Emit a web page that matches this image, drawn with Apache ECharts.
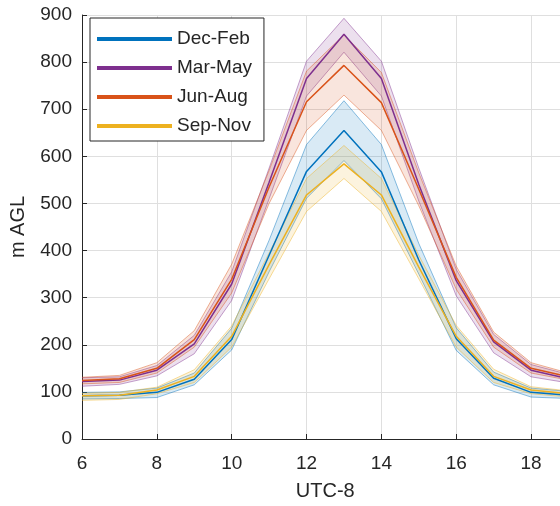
<!DOCTYPE html>
<html>
<head>
<meta charset="utf-8">
<script src="https://cdn.jsdelivr.net/npm/echarts@6/dist/echarts.min.js"></script>
<style>
html, body { margin: 0; padding: 0; background: #fff; width: 560px; height: 506px; overflow: hidden; }
#moldura { width: 560px; height: 506px; overflow: hidden; position: relative; }
#grafico { position: absolute; left: 0; top: 0; width: 569px; height: 506px; }
</style>
</head>
<body>
<div id="moldura"><div id="grafico"></div></div>
<script>
// horas (UTC-8)
var horas = [6, 7, 8, 9, 10, 11, 12, 13, 14, 15, 16, 17, 18, 19];

// Dec-Feb
var decFeb = [92, 93, 99, 127, 211, 390, 568, 655, 567, 380, 213, 129, 99, 93];
var decFebSup = [99, 100, 108, 140, 235, 422, 625, 718, 625, 415, 236, 142, 108, 101];
var decFebInf = [85, 86, 88, 115, 189, 355, 511, 591, 510, 350, 188, 115, 89, 86];

// Mar-May
var marMay = [122, 125, 146, 202, 329, 545, 765, 859, 765, 540, 336, 206, 146, 128];
var marMaySup = [130, 132, 156, 220, 355, 575, 802, 893, 802, 575, 360, 222, 158, 137];
var marMayInf = [112, 116, 134, 181, 294, 510, 728, 821, 728, 505, 304, 183, 132, 119];

// Jun-Aug
var junAug = [124, 128, 150, 211, 339, 535, 716, 793, 714, 530, 343, 210, 150, 132];
var junAugSup = [131, 135, 162, 230, 371, 570, 781, 858, 778, 565, 367, 227, 162, 140];
var junAugInf = [117, 120, 140, 195, 310, 500, 655, 730, 655, 495, 318, 195, 140, 125];

// Sep-Nov
var sepNov = [92, 93, 104, 133, 218, 370, 518, 584, 518, 365, 218, 133, 104, 96];
var sepNovSup = [97, 99, 110, 147, 240, 395, 553, 623, 553, 390, 241, 148, 111, 102];
var sepNovInf = [82, 84, 96, 120, 195, 340, 483, 553, 483, 340, 195, 120, 96, 89];

var nomes = ['Dec-Feb', 'Mar-May', 'Jun-Aug', 'Sep-Nov'];
var cores = ['#0072BD', '#7E2F8E', '#D95319', '#EDB120'];
var coresRgb = ['0,114,189', '126,47,142', '217,83,25', '237,177,32'];
var medias = [decFeb, marMay, junAug, sepNov];
var superiores = [decFebSup, marMaySup, junAugSup, sepNovSup];
var inferiores = [decFebInf, marMayInf, junAugInf, sepNovInf];

function pares(ys) {
    return horas.map(function (h, i) { return [h, ys[i]]; });
}

// desenha a faixa inteira (poligono) no primeiro item
function desenhaFaixa(k) {
    return function (params, api) {
        if (params.dataIndex !== 0) return;
        var sup = horas.map(function (h, i) { return api.coord([h, superiores[k][i]]); });
        var inf = horas.map(function (h, i) { return api.coord([h, inferiores[k][i]]); });
        var borda = 'rgba(' + coresRgb[k] + ',0.45)';
        return {
            type: 'group',
            children: [
                { type: 'polygon', shape: { points: sup.concat(inf.slice().reverse()) }, style: { fill: 'rgba(' + coresRgb[k] + ',0.15)' } },
                { type: 'polyline', shape: { points: sup }, style: { stroke: borda, fill: null, lineWidth: 1 } },
                { type: 'polyline', shape: { points: inf }, style: { stroke: borda, fill: null, lineWidth: 1 } }
            ]
        };
    };
}

var series_grafico = [];

for (var k = 0; k < 4; k++) {
    series_grafico.push({
        name: 'faixa_' + k,
        type: 'custom',
        silent: true,
        renderItem: desenhaFaixa(k),
        encode: { x: 0, y: [1, 2] },
        data: horas.map(function (h, i) { return [h, inferiores[k][i], superiores[k][i]]; })
    });
}

// linhas medias
for (var k = 0; k < 4; k++) {
    series_grafico.push({
        name: nomes[k],
        type: 'line',
        showSymbol: false,
        color: cores[k],
        lineStyle: { width: 1.5, color: cores[k] },
        data: pares(medias[k])
    });
}

var myChart = echarts.init(document.getElementById('grafico'));

var corTexto = '#262626';
var fonte = 'Liberation Sans, Arial, Helvetica, sans-serif';

var option = {
    animation: false,
    backgroundColor: '#fff',
    textStyle: { fontFamily: fonte },
    // o eixo vai ate 19, alem da borda direita da imagem (cortado pela moldura)
    grid: { left: 81.5, right: 0.5, top: 15, height: 428, containLabel: false },
    legend: {
        data: nomes,
        orient: 'vertical',
        left: 90,
        top: 18,
        itemWidth: 75,
        itemHeight: 4,
        itemGap: 9,
        icon: 'rect',
        padding: [11, 12, 5, 7],
        backgroundColor: '#fff',
        borderColor: '#262626',
        borderWidth: 1,
        textStyle: { fontSize: 19, color: corTexto, lineHeight: 20, fontFamily: fonte }
    },
    xAxis: {
        type: 'value',
        min: 6,
        max: 19,
        interval: 2,
        name: 'UTC-8',
        nameLocation: 'middle',
        nameGap: 42,
        nameTextStyle: { fontSize: 20, color: corTexto, fontFamily: fonte },
        axisLine: { show: true, lineStyle: { color: corTexto, width: 1 } },
        axisTick: { show: true, inside: true, length: 5, lineStyle: { color: corTexto } },
        axisLabel: { fontSize: 19, color: corTexto, margin: 15, fontFamily: fonte, showMaxLabel: false },
        splitLine: { show: true, lineStyle: { color: '#DFDFDF', width: 1 } }
    },
    yAxis: {
        type: 'value',
        min: 0,
        max: 900,
        interval: 100,
        name: 'm AGL',
        nameLocation: 'middle',
        nameGap: 54,
        nameTextStyle: { fontSize: 20, color: corTexto, fontFamily: fonte },
        axisLine: { show: true, lineStyle: { color: corTexto, width: 1 } },
        axisTick: { show: true, inside: true, length: 5, lineStyle: { color: corTexto } },
        axisLabel: { fontSize: 19, color: corTexto, margin: 10, fontFamily: fonte },
        splitLine: { show: true, lineStyle: { color: '#DFDFDF', width: 1 } }
    },
    series: series_grafico
};

myChart.setOption(option);
</script>
</body>
</html>
